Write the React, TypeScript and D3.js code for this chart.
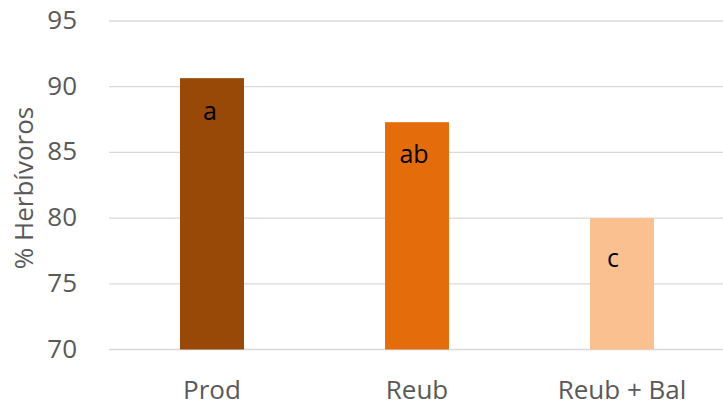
import React from "react";
import * as d3 from "d3";

const categories = ["Prod", "Reub", "Reub + Bal"];
const values = [90.65, 87.3, 80.0];
const letters = ["a", "ab", "c"];
const colors = ["#984807", "#E46C0A", "#FAC090"];
const yTicks = [70, 75, 80, 85, 90, 95];
const yTitle = "% Herbívoros";

const W = 723;
const H = 406;

export default function App() {
  const x = d3
    .scaleBand<string>()
    .domain(categories)
    .range([109.5, 724.5])
    .paddingInner(0.688)
    .paddingOuter(0.344);
  const y = d3.scaleLinear().domain([70, 95]).range([349.5, 21]);
  const font = "'Open Sans', 'Liberation Sans', sans-serif";
  const labelDx = [-2, -3, -9];
  const labelDy = [42, 41, 49];

  return (
    <svg
      width={W}
      height={H}
      style={{ position: "absolute", left: 0, top: 0, background: "#fff" }}
      fontFamily={font}
    >
      {yTicks.map((t) => (
        <g key={t}>
          <line x1={109} x2={723} y1={y(t)} y2={y(t)} stroke="#D9D9D9" strokeWidth={1.3} />
          <text x={77} y={y(t) + 8} textAnchor="end" fontSize={26} fill="#595959">
            {t}
          </text>
        </g>
      ))}
      {categories.map((c, i) => (
        <g key={c}>
          <rect
            x={x(c)}
            y={y(values[i])}
            width={x.bandwidth()}
            height={y(70) - y(values[i])}
            fill={colors[i]}
          />
          <text
            x={(x(c) as number) + x.bandwidth() / 2 + labelDx[i]}
            y={y(values[i]) + labelDy[i]}
            textAnchor="middle"
            fontSize={25}
            fill="#000"
          >
            {letters[i]}
          </text>
          <text
            x={(x(c) as number) + x.bandwidth() / 2}
            y={399}
            textAnchor="middle"
            fontSize={26}
            fill="#595959"
          >
            {c}
          </text>
        </g>
      ))}
      <text
        transform="translate(33,188) rotate(-90)"
        textAnchor="middle"
        fontSize={26}
        fill="#595959"
      >
        {yTitle}
      </text>
    </svg>
  );
}
